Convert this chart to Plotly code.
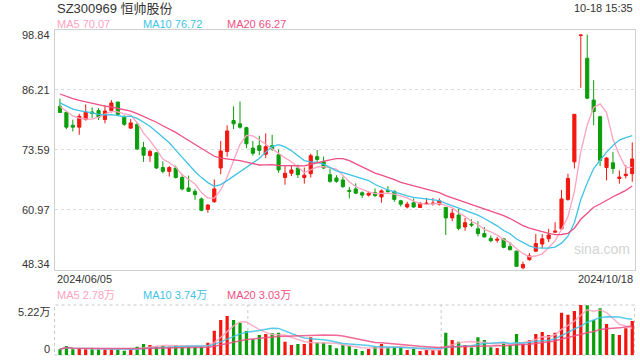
import pandas as pd
import plotly.graph_objects as go

# ---------------- data ----------------
holidays = ["2024-06-10", "2024-09-16", "2024-09-17", "2024-10-01", "2024-10-02",
            "2024-10-03", "2024-10-04", "2024-10-07"]
dates = [d.strftime("%Y-%m-%d") for d in pd.bdate_range("2024-06-05", "2024-10-18")
         if d.strftime("%Y-%m-%d") not in holidays]

opens = [82.7, 81.4, 78.7, 78.3, 79.9, 81.5, 81.8, 79.9, 81.8, 83.6,
         80.4, 78.1, 78.9, 74.0, 72.3, 72.9, 69.8, 69.0, 69.7, 67.7,
         65.5, 64.8, 63.2, 61.0, 62.6, 69.7, 73.2, 79.7, 79.0, 78.2,
         73.9, 74.4, 72.6, 74.4, 72.5, 67.7, 68.6, 69.7, 67.7, 68.5,
         72.1, 71.1, 68.3, 67.6, 67.2, 65.0, 65.3, 64.5, 64.0, 64.5,
         63.6, 65.0, 64.8, 62.8, 61.5, 62.4, 61.4, 62.2, 62.2, 62.1,
         61.4, 59.2, 59.8, 57.3, 57.9, 56.9, 55.9, 54.9, 54.5, 54.8,
         53.2, 52.2, 48.7, 50.4, 52.2, 53.7, 54.8, 56.2, 56.9, 63.1,
         71.0, 97.6, 92.8, 84.0, 80.5, 69.8, 70.8, 67.5, 68.1, 68.5]
highs = [84.3, 81.6, 79.9, 81.1, 83.1, 82.5, 82.3, 82.9, 84.0, 83.6,
         80.8, 80.0, 79.2, 75.2, 73.6, 73.0, 71.1, 70.1, 70.2, 68.4,
         68.1, 65.3, 63.5, 62.1, 67.3, 75.4, 78.7, 82.7, 83.7, 78.4,
         75.4, 76.5, 77.0, 76.7, 73.6, 70.1, 70.3, 70.4, 69.8, 72.7,
         73.5, 72.1, 69.6, 68.2, 67.9, 65.7, 66.5, 64.8, 64.8, 65.4,
         65.2, 65.9, 65.0, 63.0, 62.6, 63.3, 62.5, 63.4, 63.4, 63.3,
         61.5, 61.1, 61.1, 59.2, 58.9, 58.5, 57.3, 55.5, 55.2, 55.0,
         54.1, 52.3, 50.0, 51.8, 55.8, 55.8, 56.9, 58.3, 65.1, 68.5,
         81.0, 97.7, 97.8, 88.2, 80.7, 72.0, 73.1, 69.2, 70.3, 75.1]
lows = [81.3, 77.9, 77.4, 76.7, 79.7, 80.2, 79.8, 79.1, 81.4, 80.8,
        78.6, 78.0, 73.5, 71.0, 71.0, 69.5, 68.6, 67.9, 67.5, 65.0,
        64.7, 63.0, 60.6, 60.3, 62.4, 68.4, 72.1, 77.9, 78.0, 73.9,
        72.3, 72.4, 71.8, 73.3, 68.7, 66.2, 68.0, 67.6, 66.4, 67.7,
        70.7, 69.5, 66.6, 66.6, 65.5, 63.3, 64.2, 63.4, 63.7, 63.6,
        62.4, 64.4, 62.6, 61.6, 61.2, 61.3, 61.4, 61.9, 61.8, 61.8,
        55.6, 58.5, 56.6, 56.5, 57.3, 55.3, 55.1, 54.1, 54.0, 52.8,
        52.4, 48.9, 48.34, 50.2, 52.0, 52.8, 54.1, 56.0, 56.6, 62.8,
        69.6, 86.6, 84.2, 78.7, 70.1, 67.1, 68.5, 66.4, 67.5, 66.8]
closes = [81.4, 78.3, 78.3, 80.6, 81.5, 81.2, 80.4, 81.7, 83.4, 81.0,
          78.9, 79.2, 73.7, 72.4, 73.2, 69.7, 69.0, 69.8, 67.7, 65.3,
          64.8, 64.1, 60.8, 61.9, 65.3, 73.3, 77.5, 79.0, 78.3, 74.8,
          72.8, 73.4, 74.2, 73.7, 69.3, 68.6, 69.3, 68.3, 68.2, 72.3,
          71.5, 69.7, 66.9, 66.9, 65.8, 64.8, 64.4, 64.0, 64.4, 63.9,
          64.9, 64.8, 63.1, 62.1, 62.1, 61.5, 62.3, 62.3, 62.3, 62.8,
          59.2, 60.2, 57.0, 58.2, 57.7, 55.9, 55.2, 54.4, 54.7, 53.0,
          52.5, 49.0, 49.4, 51.2, 53.8, 54.8, 55.6, 56.4, 63.2, 67.5,
          81.0, 97.7, 84.4, 81.6, 71.3, 71.8, 69.6, 67.8, 68.4, 71.6]
# closes before 2024/06/05, estimated from where the MA lines start
pre_closes = [88.5, 88.0, 87.6, 88.2, 87.5, 87.0, 86.5, 86.8, 86.0, 85.5,
              85.0, 84.6, 84.0, 83.5, 83.8, 83.5, 83.0, 82.8, 82.5]
# volume, in 万
volumes = [0.60, 0.94, 0.60, 0.70, 0.60, 0.60, 0.60, 0.60, 0.60, 0.60,
           0.45, 0.60, 0.87, 1.15, 1.04, 0.94, 0.94, 0.87, 1.04, 0.87,
           0.87, 0.87, 0.87, 1.29, 2.54, 3.65, 4.07, 3.65, 3.37, 2.51,
           1.64, 2.09, 2.19, 2.26, 2.33, 1.39, 1.04, 1.15, 1.15, 1.85,
           1.28, 1.28, 1.04, 0.70, 1.04, 0.94, 0.63, 0.42, 0.63, 0.87,
           1.15, 0.77, 0.87, 0.77, 0.52, 0.63, 0.42, 0.52, 0.52, 0.52,
           2.33, 1.57, 1.39, 1.04, 0.77, 1.85, 1.57, 0.80, 0.73, 1.28,
           1.04, 2.19, 1.15, 1.57, 2.19, 2.40, 2.09, 2.33, 4.42, 4.21,
           4.59, 5.22, 5.20, 3.65, 4.87, 3.23, 2.19, 2.09, 2.78, 3.55]

price_ticks = [98.84, 86.21, 73.59, 60.97, 48.34]
vol_ticks = [5.22, 0]
vol_tick_text = ["5.22万", "0"]
title_text = "SZ300969 恒帅股份"
time_text = "10-18 15:35"
price_ma_labels = ["MA5 70.07", "MA10 76.72", "MA20 66.27"]
vol_ma_labels = ["MA5 2.78万", "MA10 3.74万", "MA20 3.03万"]
date_labels = ["2024/06/05", "2024/10/18"]

# ---------------- styles ----------------
RED = "#f2170f"
GREEN = "#0b9e0b"
MA_COLORS = ["#ffa3c0", "#3fc3e6", "#ef4f82"]
FONT = "Liberation Sans, Arial, Noto Sans CJK SC, sans-serif"
W, H = 640, 360
X0, X1 = 54.5, 634.5
MAIN_TOP, MAIN_BOT = 29.6, 269.5
VOL_TOP, VOL_BOT = 305.0, 355.0


def py(pix):
    return 1 - pix / H


def px(pix):
    return pix / W


full_close = pd.Series(pre_closes + closes)
n_pre = len(pre_closes)
ma_price = [full_close.rolling(w).mean().iloc[n_pre:].tolist() for w in (5, 10, 20)]
vol_s = pd.Series(volumes)
ma_vol = [vol_s.rolling(w, min_periods=1).mean().tolist() for w in (5, 10, 20)]
vol_colors = [RED if c >= o else GREEN for o, c in zip(opens, closes)]

fig = go.Figure()
fig.add_trace(go.Candlestick(
    x=dates, open=opens, high=highs, low=lows, close=closes,
    increasing=dict(line=dict(color=RED, width=1), fillcolor=RED),
    decreasing=dict(line=dict(color=GREEN, width=1), fillcolor=GREEN),
    whiskerwidth=0, showlegend=False, hoverinfo="skip",
    xaxis="x", yaxis="y"))
for ma, col in zip(ma_price, MA_COLORS):
    fig.add_trace(go.Scatter(x=dates, y=ma, mode="lines", line=dict(color=col, width=1.3),
                             showlegend=False, hoverinfo="skip", xaxis="x", yaxis="y"))
fig.add_trace(go.Bar(x=dates, y=volumes, marker=dict(color=vol_colors, line=dict(width=0)),
                     width=0.5, showlegend=False, hoverinfo="skip", xaxis="x2", yaxis="y2"))
for ma, col in zip(ma_vol, MA_COLORS):
    fig.add_trace(go.Scatter(x=dates, y=ma, mode="lines", line=dict(color=col, width=1.5),
                             opacity=0.85, showlegend=False, hoverinfo="skip",
                             xaxis="x2", yaxis="y2"))

xr = [-0.85, 89.35]
fig.update_layout(
    width=W, height=H, margin=dict(l=0, r=0, t=0, b=0),
    paper_bgcolor="white", plot_bgcolor="white",
    font=dict(family=FONT, color="#333", size=11),
    boxgap=0.3,
    xaxis=dict(domain=[px(X0), px(X1)], type="category", range=xr, showticklabels=False,
               showgrid=False, zeroline=False, rangeslider=dict(visible=False),
               showline=True, mirror=True, linecolor="#d0d0d0", linewidth=1,
               ticks="", anchor="y"),
    yaxis=dict(domain=[py(MAIN_BOT), py(MAIN_TOP)], range=[price_ticks[-1], price_ticks[0]],
               tickvals=price_ticks[1:-1], showticklabels=False, showgrid=True,
               gridcolor="#dcdcdc", griddash="dot", gridwidth=1, zeroline=False,
               showline=True, mirror=True, linecolor="#d0d0d0", linewidth=1, anchor="x"),
    xaxis2=dict(domain=[px(X0), px(X1)], type="category", range=xr, showticklabels=False,
                showgrid=False, zeroline=False, showline=False, anchor="y2"),
    yaxis2=dict(domain=[py(VOL_BOT), py(VOL_TOP)], range=[0, vol_ticks[0]],
                showticklabels=False, showgrid=False, zeroline=False, showline=False,
                anchor="x2"),
    bargap=0.5,
)

shapes = [
    dict(type="rect", xref="paper", yref="paper", x0=px(X0), x1=px(X1),
         y0=py(VOL_BOT), y1=py(VOL_TOP), line=dict(color="#c8c8c8", width=1, dash="dot"),
         layer="below"),
]
for frac in (1 / 3, 2 / 3):
    xx = px(X0 + (X1 - X0) * frac)
    shapes.append(dict(type="line", xref="paper", yref="paper", x0=xx, x1=xx,
                       y0=py(VOL_BOT), y1=py(VOL_TOP),
                       line=dict(color="#c8c8c8", width=1, dash="dot"), layer="below"))
fig.update_layout(shapes=shapes)

ann = []
ann.append(dict(text=title_text, x=px(55), y=py(8), xref="paper", yref="paper",
                xanchor="left", yanchor="middle", showarrow=False,
                font=dict(size=13, color="#333")))
ann.append(dict(text=time_text, x=px(634.5), y=py(8), xref="paper", yref="paper",
                xanchor="right", yanchor="middle", showarrow=False,
                font=dict(size=11, color="#333")))
for lbl, xpos, col in zip(price_ma_labels, (55, 140.5, 225), MA_COLORS):
    ann.append(dict(text=lbl, x=px(xpos), y=py(24), xref="paper", yref="paper",
                    xanchor="left", yanchor="middle", showarrow=False,
                    font=dict(size=11, color=col)))
for lbl, xpos, col in zip(vol_ma_labels, (55, 140.5, 225), MA_COLORS):
    ann.append(dict(text=lbl, x=px(xpos), y=py(295), xref="paper", yref="paper",
                    xanchor="left", yanchor="middle", showarrow=False,
                    font=dict(size=11, color=col)))
for i, v in enumerate(price_ticks):
    if i == 0:
        a = dict(y=py(35.5), yref="paper")
    elif i == len(price_ticks) - 1:
        a = dict(y=py(264), yref="paper")
    else:
        a = dict(y=v, yref="y")
    ann.append(dict(text=f"{v:.2f}", x=px(51.5), xref="paper",
                    xanchor="right", yanchor="middle", showarrow=False,
                    font=dict(size=11, color="#333"), **a))
for i, (v, t) in enumerate(zip(vol_ticks, vol_tick_text)):
    ann.append(dict(text=t, x=px(51.5), y=py(311.5 if i == 0 else 348.5), xref="paper",
                    yref="paper", xanchor="right", yanchor="middle", showarrow=False,
                    font=dict(size=11, color="#333")))
ann.append(dict(text=date_labels[0], x=px(55), y=py(279), xref="paper", yref="paper",
                xanchor="left", yanchor="middle", showarrow=False,
                font=dict(size=11, color="#333")))
ann.append(dict(text=date_labels[1], x=px(634.5), y=py(279), xref="paper", yref="paper",
                xanchor="right", yanchor="middle", showarrow=False,
                font=dict(size=11, color="#333")))
ann.append(dict(text="sina.com", x=px(602), y=py(249), xref="paper", yref="paper",
                xanchor="center", yanchor="middle", showarrow=False,
                font=dict(size=14, color="#d4d4d4")))
fig.update_layout(annotations=ann)

fig.write_html("out.html", config={"displayModeBar": False})
with open("out.html", "r", encoding="utf-8") as f:
    html = f.read()
html = html.replace("<head>", "<head><style>html,body{margin:0;padding:0;overflow:hidden;}</style>", 1)
with open("out.html", "w", encoding="utf-8") as f:
    f.write(html)
